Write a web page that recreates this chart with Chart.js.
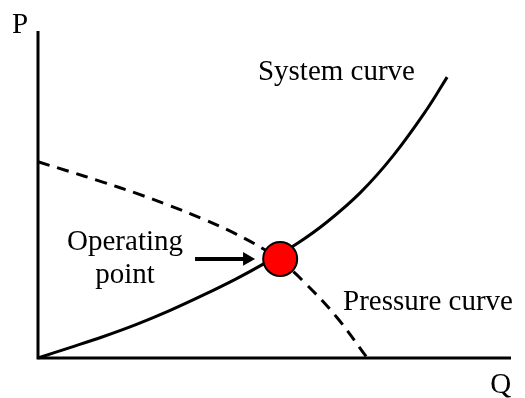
<!DOCTYPE html>
<html>
<head>
<meta charset="utf-8">
<script src="https://cdn.jsdelivr.net/npm/chart.js@4"></script>
<style>
  html, body { margin: 0; padding: 0; background: #fff; }
  #wrap { width: 525px; height: 398px; }
</style>
</head>
<body>
<div id="wrap"><canvas id="chart"></canvas></div>
<script>
// curves (Q on x, P on y, both 0..100)
const systemQ = [0, 6.6, 13.7, 20.7, 27.7, 34.9, 41.9, 47.6, 54.8, 61.1, 68.1, 75.1, 82.2, 86.5];
const systemP = [0, 3.1, 6.5, 10.2, 14.4, 19.2, 24.2, 28.7, 35.0, 41.6, 50.5, 61.9, 76.0, 85.9];

const pressureQ = [0, 6.3, 13.7, 20.7, 27.7, 34.9, 41.9, 47.6, 51.2, 56.0, 63.2, 69.6];
const pressureP = [60, 57.2, 53.8, 50.4, 46.7, 42.5, 37.9, 33.4, 29.8, 23.6, 12.4, 0];

const operatingPoint = { x: 51.2, y: 30.3 };
const arrowQ = [33.2, 44.2];

const axisMax = 100;

function toPoints(xs, ys) {
  return xs.map((x, i) => ({ x, y: ys[i] }));
}

const FONT = '29px "Liberation Serif", "Times New Roman", serif';

// text labels, placed in data units
const annotations = [
  { text: 'P', x: -5.5, y: 99.4, align: 'left' },
  { text: 'Q', x: 95.6, y: -10.7, align: 'left' },
  { text: 'System curve', x: 46.5, y: 85.0, align: 'left' },
  { text: 'Pressure curve', x: 64.5, y: 14.7, align: 'left' },
  { text: 'Operating', x: 18.4, y: 33.0, align: 'center' },
  { text: 'point', x: 18.4, y: 22.9, align: 'center' },
];

const labelPlugin = {
  id: 'labels',
  afterDraw(chart) {
    const ctx = chart.ctx;
    const xs = chart.scales.x, ys = chart.scales.y;
    ctx.save();
    ctx.fillStyle = '#000';
    ctx.font = FONT;
    ctx.textBaseline = 'alphabetic';
    annotations.forEach(a => {
      ctx.textAlign = a.align;
      ctx.fillText(a.text, xs.getPixelForValue(a.x), ys.getPixelForValue(a.y));
    });
    ctx.restore();
  }
};

new Chart(document.getElementById('chart'), {
  type: 'scatter',
  data: {
    datasets: [
      {
        label: 'Operating point',
        data: [operatingPoint],
        pointRadius: 17,
        pointHoverRadius: 17,
        backgroundColor: '#ff0000',
        borderColor: '#000',
        borderWidth: 2,
        clip: false,
      },
      {
        label: 'Arrow',
        data: toPoints(arrowQ, [operatingPoint.y, operatingPoint.y]),
        showLine: true,
        borderColor: '#000',
        borderWidth: 4,
        pointRadius: [0, 8],
        pointStyle: 'triangle',
        pointRotation: 90,
        backgroundColor: '#000',
        pointBorderWidth: 0,
        clip: false,
      },
      {
        label: 'System curve',
        data: toPoints(systemQ, systemP),
        showLine: true,
        borderColor: '#000',
        borderWidth: 3,
        pointRadius: 0,
        tension: 0.4,
        clip: false,
      },
      {
        label: 'Pressure curve',
        data: toPoints(pressureQ, pressureP),
        showLine: true,
        borderColor: '#000',
        borderWidth: 3,
        borderDash: [12, 8],
        pointRadius: 0,
        tension: 0.4,
        clip: false,
      },
      {
        label: 'Axes',
        data: [{ x: 0, y: axisMax }, { x: 0, y: 0 }, { x: axisMax, y: 0 }],
        showLine: true,
        borderColor: '#000',
        borderWidth: 3,
        borderJoinStyle: 'miter',
        pointRadius: 0,
        tension: 0,
        clip: false,
      },
    ],
  },
  options: {
    responsive: true,
    maintainAspectRatio: false,
    animation: false,
    layout: {
      autoPadding: false,
      padding: { left: 38, right: 14, top: 31, bottom: 40 },
    },
    plugins: {
      legend: { display: false },
      tooltip: { enabled: false },
    },
    scales: {
      x: { type: 'linear', min: 0, max: axisMax, display: false },
      y: { type: 'linear', min: 0, max: axisMax, display: false },
    },
  },
  plugins: [labelPlugin],
});
</script>
</body>
</html>
